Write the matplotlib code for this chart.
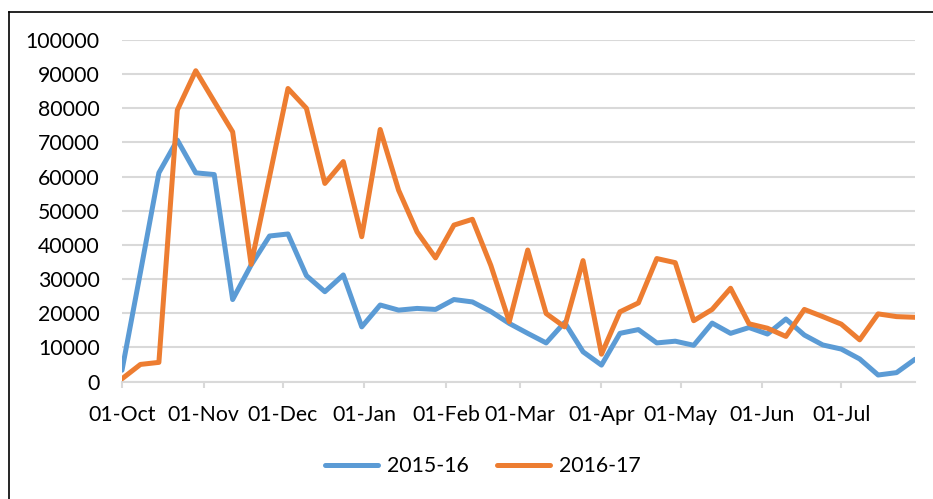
import matplotlib
matplotlib.use("Agg")
import matplotlib.pyplot as plt
import matplotlib.dates as mdates
from matplotlib.lines import Line2D
import pandas as pd

plt.rcParams['font.family'] = ['Lato', 'DejaVu Sans']

week_dates = [
    "2016-10-01", "2016-10-08", "2016-10-15", "2016-10-22", "2016-10-29",
    "2016-11-05", "2016-11-12", "2016-11-19", "2016-11-26",
    "2016-12-03", "2016-12-10", "2016-12-17", "2016-12-24", "2016-12-31",
    "2017-01-07", "2017-01-14", "2017-01-21", "2017-01-28",
    "2017-02-04", "2017-02-11", "2017-02-18", "2017-02-25",
    "2017-03-04", "2017-03-11", "2017-03-18", "2017-03-25",
    "2017-04-01", "2017-04-08", "2017-04-15", "2017-04-22", "2017-04-29",
    "2017-05-06", "2017-05-13", "2017-05-20", "2017-05-27",
    "2017-06-03", "2017-06-10", "2017-06-17", "2017-06-24",
    "2017-07-01", "2017-07-08", "2017-07-15", "2017-07-22", "2017-07-29",
]

series_2015_16 = [3300, 32000, 61100, 70700, 61100, 60600, 24000, 34100, 42600, 43200,
                  31000, 26300, 31200, 16000, 22400, 20900, 21400, 21100, 24000, 23300,
                  20500, 17000, 14100, 11300, 17300, 8700, 4800, 14100, 15200, 11300,
                  11800, 10600, 17100, 14100, 15800, 13900, 18300, 13600, 10700, 9500,
                  6600, 1900, 2600, 6500]

series_2016_17 = [800, 5000, 5600, 79500, 91000, 82000, 73100, 34300, 60000, 85800,
                  80000, 58000, 64400, 42400, 73800, 56000, 43800, 36200, 45800, 47500,
                  34000, 17500, 38500, 19900, 16000, 35400, 8000, 20400, 23000, 36000,
                  34800, 17800, 21100, 27300, 16900, 15600, 13200, 21100, 19000, 16800,
                  12200, 19800, 19000, 18800]

series_labels = ["2015-16", "2016-17"]
y_ticks = [0, 10000, 20000, 30000, 40000, 50000, 60000, 70000, 80000, 90000, 100000]

dates = pd.to_datetime(week_dates)

W, H = 933, 499
fig = plt.figure(figsize=(W / 100, H / 100), dpi=100)
ax = fig.add_axes([122 / W, 1 - 381.5 / H, (915 - 122) / W, (381.5 - 40) / H])

blue = '#5B9BD5'
orange = '#ED7D31'
ax.plot(dates, series_2015_16, color=blue, lw=3.6, solid_joinstyle='round',
        solid_capstyle='round', label=series_labels[0], zorder=3)
ax.plot(dates, series_2016_17, color=orange, lw=3.6, solid_joinstyle='round',
        solid_capstyle='round', label=series_labels[1], zorder=4)

ax.set_xlim(dates[0], dates[-1])
ax.set_ylim(0, 100000)
ax.set_yticks(y_ticks)
ax.set_yticklabels([str(v) for v in y_ticks])
ax.xaxis.set_major_locator(mdates.MonthLocator(bymonthday=1))
ax.xaxis.set_major_formatter(mdates.DateFormatter('%d-%b'))

for s in ['top', 'right', 'left']:
    ax.spines[s].set_visible(False)
ax.spines['bottom'].set_color('#D9D9D9')
ax.spines['bottom'].set_linewidth(1.5)
ax.grid(axis='y', color='#D9D9D9', lw=1.5)
ax.set_axisbelow(True)
ax.tick_params(axis='y', length=0, pad=16, labelsize=15.3, labelcolor='black')
ax.tick_params(axis='x', length=4, width=1.5, color='#D9D9D9', direction='out',
               pad=13, labelsize=15.3, labelcolor='black')

leg = fig.legend(loc='center', bbox_to_anchor=(483 / W, 1 - 466 / H), ncol=2,
                 frameon=False, fontsize=15.3, handlelength=2.5, handletextpad=0.45,
                 columnspacing=1.3)
for line in leg.get_lines():
    line.set_linewidth(3.6)

# chart border (cropped)
fig.add_artist(Line2D([8.5 / W, 8.5 / W], [0, 1 - 11.5 / H], color='black', lw=1.2,
                      transform=fig.transFigure))
fig.add_artist(Line2D([8.5 / W, 1], [1 - 11.5 / H, 1 - 11.5 / H], color='black', lw=1.2,
                      transform=fig.transFigure))

fig.savefig('out.png', dpi=100)
